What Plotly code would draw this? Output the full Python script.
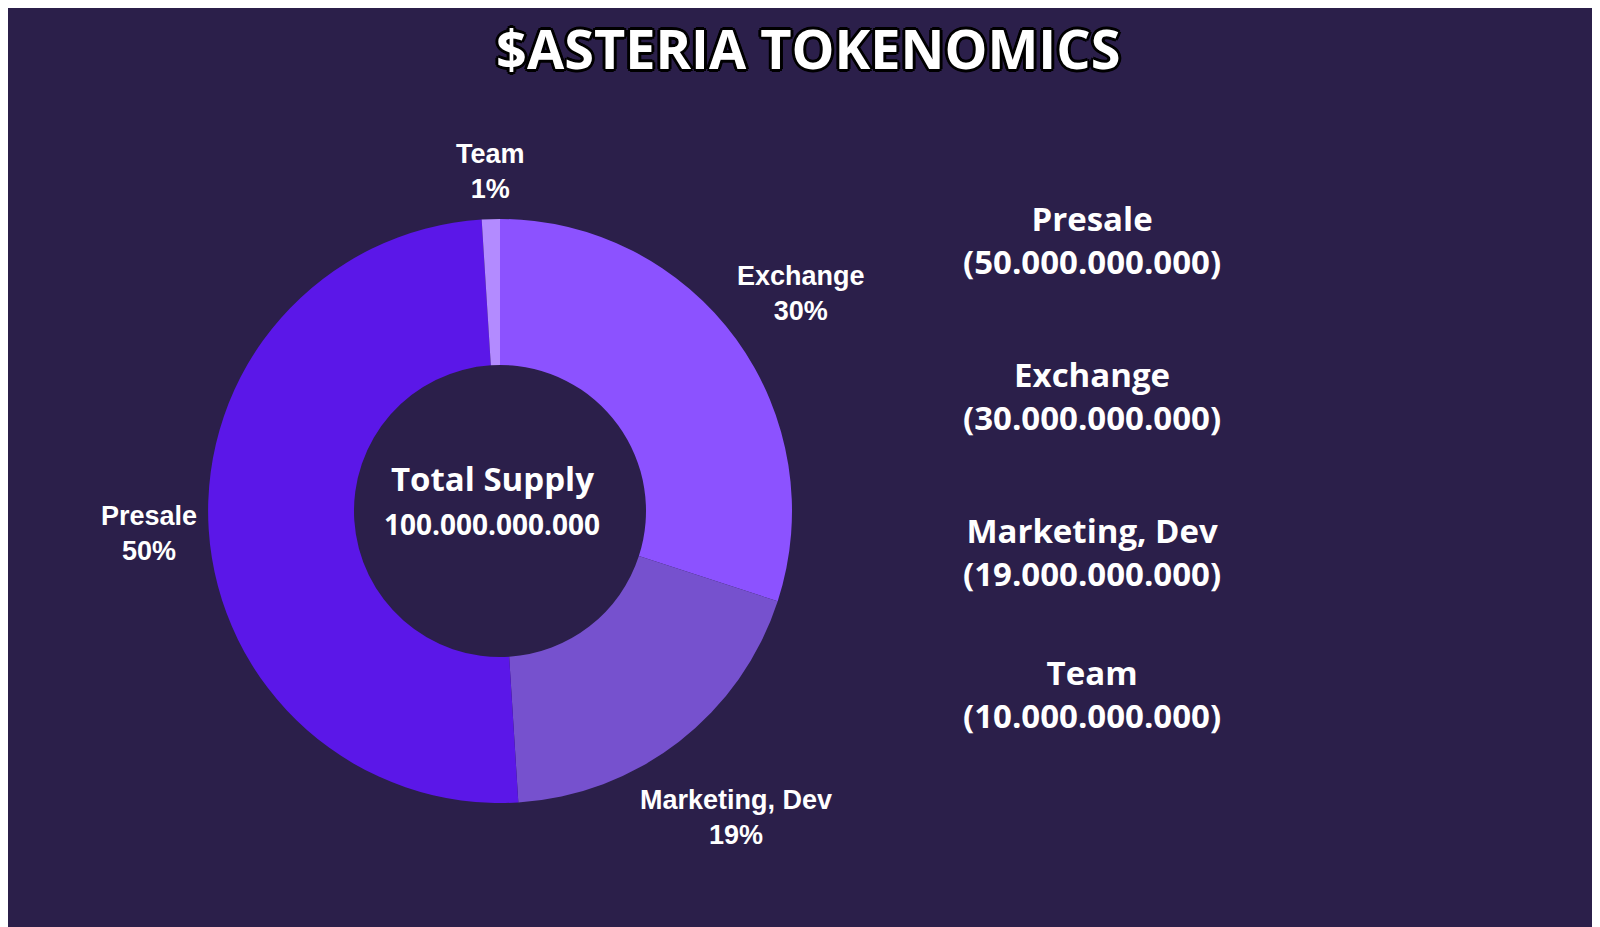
import plotly.graph_objects as go

labels = ["Exchange", "Marketing, Dev", "Presale", "Team"]
values = [30, 19, 50, 1]
colors = ["#8C52FF", "#7651CE", "#5B17E8", "#B38BFF"]
legend_order = ["Presale", "Exchange", "Marketing, Dev", "Team"]
legend_supply = ["50.000.000.000", "30.000.000.000", "19.000.000.000", "10.000.000.000"]

W, H = 1600, 927
bg = "#2B1F4A"

fig = go.Figure(go.Pie(
    labels=labels, values=values, hole=0.5, sort=False, direction="clockwise",
    rotation=0, marker=dict(colors=colors, line=dict(width=0)),
    textinfo="none", hoverinfo="label+percent", showlegend=False,
    domain=dict(x=[200/W, 784/W], y=[1-795/H, 1-211/H]),
))

def px(x, y):
    return x / W, 1 - y / H

ann = []
outline = "3px 0 0 #000, -3px 0 0 #000, 0 3px 0 #000, 0 -3px 0 #000, 2px 2px 0 #000, -2px -2px 0 #000, 2px -2px 0 #000, -2px 2px 0 #000"
def add(xp, yp, text, font):
    x, y = px(xp, yp)
    ann.append(dict(x=x, y=y, text=text, showarrow=False, xanchor="center", yanchor="middle",
                    align="center", font=font))

add(800, 40, "<b>$ASTERIA TOKENOMICS</b>",
    dict(family="Open Sans", size=54, color="white", shadow=outline))

pos = {"Team": (482, 164), "Exchange": (793, 285), "Presale": (141, 525), "Marketing, Dev": (728, 809)}
for lab, v in zip(labels, values):
    add(pos[lab][0], pos[lab][1], f"<b>{lab}<br>{v}%</b>",
        dict(family="Liberation Sans Narrow, Arial Narrow, sans-serif", size=27, color="white"))

add(484, 470, "<b>Total Supply</b>", dict(family="Open Sans", size=33, color="white"))
add(484, 516, "<b>100.000.000.000</b>", dict(family="Open Sans", size=28, color="white"))

ys = [232, 388, 544, 686]
for lab, s, yy in zip(legend_order, legend_supply, ys):
    add(1084, yy, f"<b>{lab}<br>({s})</b>", dict(family="Open Sans", size=33, color="white"))

fig.update_layout(width=W, height=H, margin=dict(l=0, r=0, t=0, b=0),
                  paper_bgcolor=bg, plot_bgcolor=bg, annotations=ann)
fig.write_html("out.html")
